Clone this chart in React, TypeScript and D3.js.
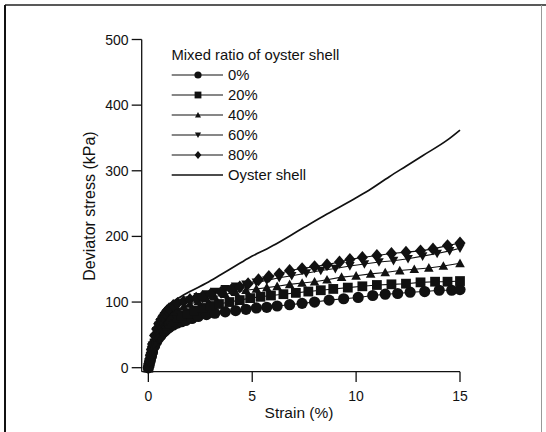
import React from "react";
import * as d3 from "d3";

const xTicks = [0, 5, 10, 15];
const yTicks = [0, 100, 200, 300, 400, 500];

const legendTitle = "Mixed ratio of oyster shell";

const strain0 = [0, 0.05, 0.1, 0.15, 0.2, 0.3, 0.4, 0.5, 0.6, 0.7, 0.8, 0.9, 1.0, 1.2, 1.4, 1.6, 1.8, 2.1, 2.4, 2.8, 3.2, 3.7, 4.2, 4.7, 5.2, 5.7, 6.2, 6.8, 7.4, 8.0, 8.7, 9.4, 10.1, 10.8, 11.4, 12.0, 12.6, 13.3, 14.0, 14.6, 15.0];
const stress0 = [0, 6, 12, 18, 24, 33, 40, 45, 49, 53, 56, 59, 61, 65, 68, 70, 72, 75, 78, 81, 83, 85, 87, 89, 91, 92, 94, 96, 98, 100, 103, 105, 107, 110, 112, 113, 115, 116, 118, 118, 119];

const strain20 = [0, 0.05, 0.1, 0.15, 0.2, 0.3, 0.4, 0.5, 0.6, 0.7, 0.8, 0.9, 1.0, 1.2, 1.4, 1.6, 1.9, 2.2, 2.6, 3.0, 3.4, 3.9, 4.4, 4.9, 5.4, 5.9, 6.5, 7.1, 7.7, 8.3, 8.9, 9.6, 10.3, 11.0, 11.7, 12.4, 13.1, 13.8, 14.4, 15.0];
const stress20 = [0, 7, 14, 21, 27, 37, 45, 51, 56, 60, 64, 67, 70, 74, 77, 80, 83, 87, 91, 94, 97, 100, 103, 106, 108, 110, 112, 114, 116, 118, 120, 122, 124, 126, 127, 128, 130, 131, 131, 132];

const strain40 = [0, 0.05, 0.1, 0.15, 0.2, 0.3, 0.4, 0.5, 0.6, 0.7, 0.8, 0.9, 1.0, 1.2, 1.4, 1.7, 2.0, 2.4, 2.8, 3.2, 3.7, 4.2, 4.7, 5.2, 5.7, 6.2, 6.8, 7.4, 8.0, 8.6, 9.3, 10.0, 10.7, 11.4, 12.1, 12.8, 13.5, 14.2, 15.0];
const stress40 = [0, 8, 16, 24, 31, 43, 52, 59, 65, 70, 74, 77, 80, 85, 89, 93, 97, 101, 105, 108, 112, 115, 118, 120, 122, 124, 127, 129, 131, 134, 138, 140, 143, 145, 148, 150, 152, 155, 159];

const strain60 = [0, 0.05, 0.1, 0.15, 0.2, 0.3, 0.4, 0.5, 0.6, 0.7, 0.8, 0.9, 1.0, 1.2, 1.4, 1.7, 2.0, 2.4, 2.8, 3.2, 3.7, 4.2, 4.7, 5.2, 5.7, 6.3, 6.9, 7.6, 8.3, 9.0, 9.7, 10.4, 11.1, 11.8, 12.5, 13.2, 13.9, 14.5, 15.0];
const stress60 = [0, 9, 18, 27, 34, 46, 56, 64, 70, 75, 79, 83, 86, 91, 95, 99, 103, 108, 112, 116, 120, 124, 127, 130, 133, 137, 140, 144, 148, 151, 155, 158, 161, 163, 166, 170, 174, 178, 182];

const strain80 = [0, 0.05, 0.1, 0.15, 0.2, 0.3, 0.4, 0.5, 0.6, 0.7, 0.8, 0.9, 1.0, 1.2, 1.4, 1.7, 2.0, 2.3, 2.6, 3.0, 3.5, 4.0, 4.4, 4.8, 5.3, 5.8, 6.3, 6.8, 7.4, 8.0, 8.6, 9.2, 9.7, 10.3, 11.0, 11.7, 12.4, 13.1, 13.7, 14.4, 15.0];
const stress80 = [0, 10, 19, 28, 36, 49, 59, 67, 73, 78, 83, 87, 90, 95, 98, 101, 104, 106, 108, 112, 115, 119, 123, 128, 134, 139, 143, 148, 151, 154, 157, 161, 165, 168, 171, 174, 176, 178, 181, 186, 190];

const strainOyster = [0, 0.1, 0.2, 0.4, 0.6, 0.8, 1.0, 1.2, 1.5, 2.0, 2.8, 3.5, 4.4, 5.0, 5.7, 6.0, 7.3, 8.6, 9.9, 10.5, 11.6, 12.4, 13.2, 14.4, 15.0];
const stressOyster = [0, 20, 38, 60, 76, 88, 96, 101, 107, 116, 129, 142, 159, 170, 181, 186, 210, 234, 257, 268, 291, 307, 323, 347, 362];

const seriesNames = ["0%", "20%", "40%", "60%", "80%", "Oyster shell"];
const seriesMarkers = ["circle", "square", "triangle", "triangleDown", "diamond", "none"];

const W = 546;
const H = 432;

function markerPath(kind: string, cx: number, cy: number, s: number): string {
  switch (kind) {
    case "circle":
      return `M${cx - s},${cy}a${s},${s} 0 1,0 ${2 * s},0a${s},${s} 0 1,0 ${-2 * s},0Z`;
    case "square":
      return `M${cx - s},${cy - s}h${2 * s}v${2 * s}h${-2 * s}Z`;
    case "triangle":
      return `M${cx},${cy - s}L${cx + s},${cy + s * 0.8}L${cx - s},${cy + s * 0.8}Z`;
    case "triangleDown":
      return `M${cx},${cy + s}L${cx + s},${cy - s * 0.8}L${cx - s},${cy - s * 0.8}Z`;
    case "diamond":
      return `M${cx},${cy - s * 1.15}L${cx + s},${cy}L${cx},${cy + s * 1.15}L${cx - s},${cy}Z`;
    default:
      return "";
  }
}

const markerSize: Record<string, number> = {
  circle: 5.6,
  square: 4.9,
  triangle: 4.8,
  triangleDown: 4.8,
  diamond: 5.6,
};
const legendMarkerSize: Record<string, number> = {
  circle: 3.6,
  square: 3.4,
  triangle: 3,
  triangleDown: 3.1,
  diamond: 3.4,
};

export default function App() {
  const x = d3.scaleLinear().domain([-0.32, 15]).range([141.7, 460]);
  const y = d3.scaleLinear().domain([-6.1, 500]).range([371.7, 39.5]);

  const series = [
    { xs: strain0, ys: stress0 },
    { xs: strain20, ys: stress20 },
    { xs: strain40, ys: stress40 },
    { xs: strain60, ys: stress60 },
    { xs: strain80, ys: stress80 },
    { xs: strainOyster, ys: stressOyster },
  ];

  const line = d3
    .line<[number, number]>()
    .x((d) => x(d[0]))
    .y((d) => y(d[1]));
  const smooth = d3
    .line<[number, number]>()
    .x((d) => x(d[0]))
    .y((d) => y(d[1]))
    .curve(d3.curveMonotoneX);

  const font = "'Liberation Sans', Arial, sans-serif";
  const ink = "#111";

  return (
    <svg
      width={W}
      height={H}
      style={{ position: "absolute", left: 0, top: 0, background: "#fff" }}
      fontFamily={font}
    >
      <rect x={0} y={0} width={W} height={H} fill="#fff" />
      {/* outer frame */}
      <line x1={5} y1={5} x2={W} y2={5} stroke="#222" strokeWidth={1.5} />
      <line x1={5} y1={5} x2={5} y2={H} stroke="#111" strokeWidth={2} />
      <line x1={541.5} y1={5} x2={541.5} y2={H} stroke="#999" strokeWidth={1} />

      {/* series */}
      {series.map((s, i) => {
        const pts: [number, number][] = s.xs.map((v, j) => [v, s.ys[j]]);
        const kind = seriesMarkers[i];
        return (
          <g key={i}>
            <path
              d={(kind === "none" ? smooth(pts) : line(pts)) || ""}
              fill="none"
              stroke={ink}
              strokeWidth={kind === "none" ? 1.7 : 1.1}
            />
            {kind !== "none" &&
              pts.map((p, j) => (
                <path
                  key={j}
                  d={markerPath(kind, x(p[0]), y(p[1]), markerSize[kind])}
                  fill={ink}
                />
              ))}
          </g>
        );
      })}

      {/* axes */}
      <line x1={141.7} y1={39.5} x2={141.7} y2={371.7} stroke={ink} strokeWidth={1.3} />
      <line x1={141.7} y1={371.7} x2={460} y2={371.7} stroke={ink} strokeWidth={1.3} />
      {yTicks.map((t) => (
        <g key={"y" + t}>
          <line x1={131.7} x2={141.7} y1={y(t)} y2={y(t)} stroke={ink} strokeWidth={1.3} />
          <text
            x={128.5}
            y={y(t)}
            dy="0.36em"
            textAnchor="end"
            fontSize={14}
            fill={ink}
          >
            {t}
          </text>
        </g>
      ))}
      {xTicks.map((t) => (
        <g key={"x" + t}>
          <line x1={x(t)} x2={x(t)} y1={371.7} y2={382} stroke={ink} strokeWidth={1.3} />
          <text x={x(t)} y={400.5} textAnchor="middle" fontSize={14} fill={ink}>
            {t}
          </text>
        </g>
      ))}
      <text x={299} y={418} textAnchor="middle" fontSize={15.5} fill={ink}>
        Strain (%)
      </text>
      <text
        transform={`translate(95,${206}) rotate(-90)`}
        textAnchor="middle"
        fontSize={16}
        fill={ink}
      >
        Deviator stress (kPa)
      </text>

      {/* legend */}
      <text x={171.5} y={60} fontSize={14.8} fill={ink}>
        {legendTitle}
      </text>
      {seriesNames.map((name, i) => {
        const cy = 75 + i * 20;
        const kind = seriesMarkers[i];
        return (
          <g key={"l" + i}>
            <line
              x1={171.7}
              x2={223}
              y1={cy}
              y2={cy}
              stroke={ink}
              strokeWidth={kind === "none" ? 1.7 : 1.1}
            />
            {kind !== "none" && (
              <path d={markerPath(kind, 198, cy, legendMarkerSize[kind])} fill={ink} />
            )}
            <text x={228} y={cy} dy="0.36em" fontSize={14.8} fill={ink}>
              {name}
            </text>
          </g>
        );
      })}
    </svg>
  );
}
